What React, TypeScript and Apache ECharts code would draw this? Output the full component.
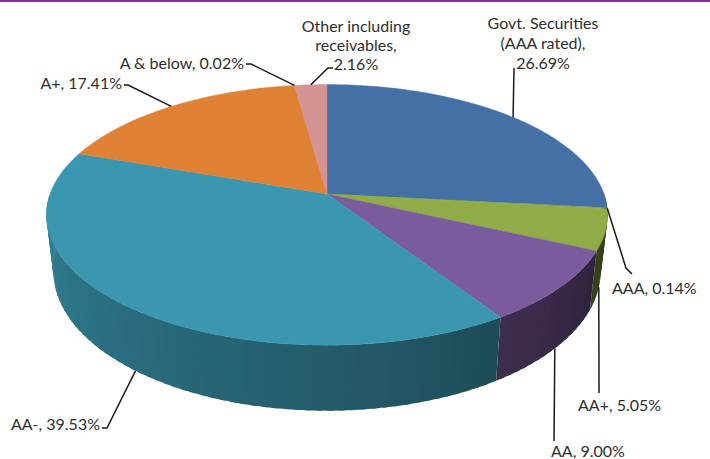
import React, { useEffect, useRef } from "react";
import * as echarts from "echarts";

// ---- data ----
const categories = [
  "Govt. Securities\n(AAA rated)",
  "AAA",
  "AA+",
  "AA",
  "AA-",
  "A+",
  "A & below",
  "Other including\nreceivables",
];
const values = [26.69, 0.14, 5.05, 9.0, 39.53, 17.41, 0.02, 2.16];
const sliceColors = ["#4470a6", "#7f9a4a", "#8fac46", "#7a5b9c", "#3b97b0", "#df8235", "#d88a5a", "#d49494"];

// ---- layout (positions / styles only) ----
const PIE = { cx: 327, cy: 194, rx: 277, ry: 127, k: 0.16, depth: 55, bottomScale: 0.975 };
type LabelLayout = {
  anchor: "top" | "side";
  path: number[][];
  x: number;
  y: number;
  align: "left" | "right" | "center";
  lineHeight: number;
};
const labelLayout: LabelLayout[] = [
  { anchor: "top", path: [[514, 68]], x: 543, y: 42, align: "center", lineHeight: 20 },
  { anchor: "top", path: [[626, 268], [632, 274]], x: 612, y: 287, align: "left", lineHeight: 18 },
  { anchor: "side", path: [[599, 393]], x: 578, y: 404, align: "left", lineHeight: 18 },
  { anchor: "side", path: [[554, 441]], x: 551, y: 450, align: "left", lineHeight: 18 },
  { anchor: "side", path: [[107, 428], [102, 428]], x: 100, y: 423, align: "right", lineHeight: 18 },
  { anchor: "top", path: [[128, 85], [124, 85]], x: 122, y: 82, align: "right", lineHeight: 18 },
  { anchor: "top", path: [[251, 64], [246, 64]], x: 244, y: 62, align: "right", lineHeight: 18 },
  { anchor: "top", path: [[328, 68], [333, 68]], x: 356, y: 44, align: "center", lineHeight: 19 },
];
const FONT = "Lato, 'Open Sans', sans-serif";

function proj(deg: number) {
  const t = (deg * Math.PI) / 180;
  const s = Math.sin(t);
  const c = Math.cos(t);
  const den = 1 + PIE.k * c;
  const x = PIE.cx + (PIE.rx * s) / den;
  const y = PIE.cy - (PIE.ry * c) / den;
  const xb = PIE.cx + PIE.bottomScale * (x - PIE.cx);
  const yb = y + PIE.depth / den;
  return { x, y, xb, yb };
}

function shade(hex: string, f: number) {
  const n = parseInt(hex.slice(1), 16);
  const r = Math.round(((n >> 16) & 255) * f);
  const g = Math.round(((n >> 8) & 255) * f);
  const b = Math.round((n & 255) * f);
  return "rgb(" + r + "," + g + "," + b + ")";
}
function sideFactor(deg: number) {
  const t = Math.min(1, Math.max(0, (deg - 90) / 180));
  return 0.27 + 0.58 * Math.pow(t, 0.8);
}

export default function App() {
  const ref = useRef<HTMLDivElement>(null);
  useEffect(() => {
    if (!ref.current) return;
    const chart = echarts.init(ref.current, undefined, { renderer: "svg" });
    const total = values.reduce((a, b) => a + b, 0);
    let acc = 0;
    const data = values.map((v, i) => {
      const start = (acc / total) * 100;
      acc += v;
      const end = (acc / total) * 100;
      return { name: categories[i], value: [start, end, i, v] };
    });

    const pieRender = (params: any, api: any) => {
      const a0 = api.value(0) * 3.6;
      const a1 = api.value(1) * 3.6;
      const idx = api.value(2);
      const base = sliceColors[idx];
      const children: any[] = [];
      const s0 = Math.max(a0, 90);
      const s1 = Math.min(a1, 270);
      if (s1 > s0) {
        const n = Math.max(1, Math.ceil((s1 - s0) / 2));
        for (let j = 0; j < n; j++) {
          const t0 = s0 + ((s1 - s0) * j) / n;
          const t1 = s0 + ((s1 - s0) * (j + 1)) / n;
          const t1x = j < n - 1 ? Math.min(s1, t1 + 1) : t1;
          const p0 = proj(t0);
          const p1 = proj(t1x);
          const col = shade(base, sideFactor((t0 + t1) / 2));
          children.push({
            type: "polygon",
            shape: { points: [[p0.x, p0.y], [p1.x, p1.y], [p1.xb, p1.yb], [p0.xb, p0.yb]] },
            style: { fill: col },
          });
        }
      }
      const pts: number[][] = [[PIE.cx, PIE.cy]];
      const m = Math.max(2, Math.ceil(a1 - a0));
      for (let j = 0; j <= m; j++) {
        const p = proj(a0 + ((a1 - a0) * j) / m);
        pts.push([p.x, p.y]);
      }
      children.push({
        type: "polygon",
        shape: { points: pts },
        style: { fill: base, stroke: base, lineWidth: 0.4 },
      });
      return { type: "group", children };
    };

    const labelRender = (params: any, api: any) => {
      const a0 = api.value(0) * 3.6;
      const a1 = api.value(1) * 3.6;
      const idx = api.value(2);
      const v = api.value(3);
      const lay = labelLayout[idx];
      const mid = (a0 + a1) / 2;
      const p = proj(mid);
      const anchor = lay.anchor === "side" ? [p.xb, p.yb] : [p.x, p.y];
      const text = categories[idx] + ",\n" + Number(v).toFixed(2) + "%";
      const finalText = idx === 0 || idx === 7 ? text : text.replace("\n", " ");
      return {
        type: "group",
        children: [
          {
            type: "polyline",
            shape: { points: [anchor, ...lay.path] },
            style: { stroke: "#1a1a1a", lineWidth: 1.5, fill: "none" },
          },
          {
            type: "text",
            x: lay.x,
            y: lay.y,
            style: {
              text: finalText,
              fill: "#2e2e2e",
              fontFamily: FONT,
              fontSize: 16,
              align: lay.align,
              verticalAlign: "middle",
              lineHeight: lay.lineHeight,
            },
          },
        ],
      };
    };

    chart.setOption({
      animation: false,
      backgroundColor: "#ffffff",
      graphic: [
        {
          type: "rect",
          shape: { x: 0, y: 0, width: 710, height: 2 },
          style: { fill: "#8b2c97" },
        },
      ],
      series: [
        { type: "custom", coordinateSystem: "none", renderItem: pieRender, data, silent: true },
        { type: "custom", coordinateSystem: "none", renderItem: labelRender, data, silent: true },
      ],
    });
    return () => chart.dispose();
  }, []);
  return <div ref={ref} style={{ position: "absolute", left: 0, top: 0, width: 710, height: 459 }} />;
}
